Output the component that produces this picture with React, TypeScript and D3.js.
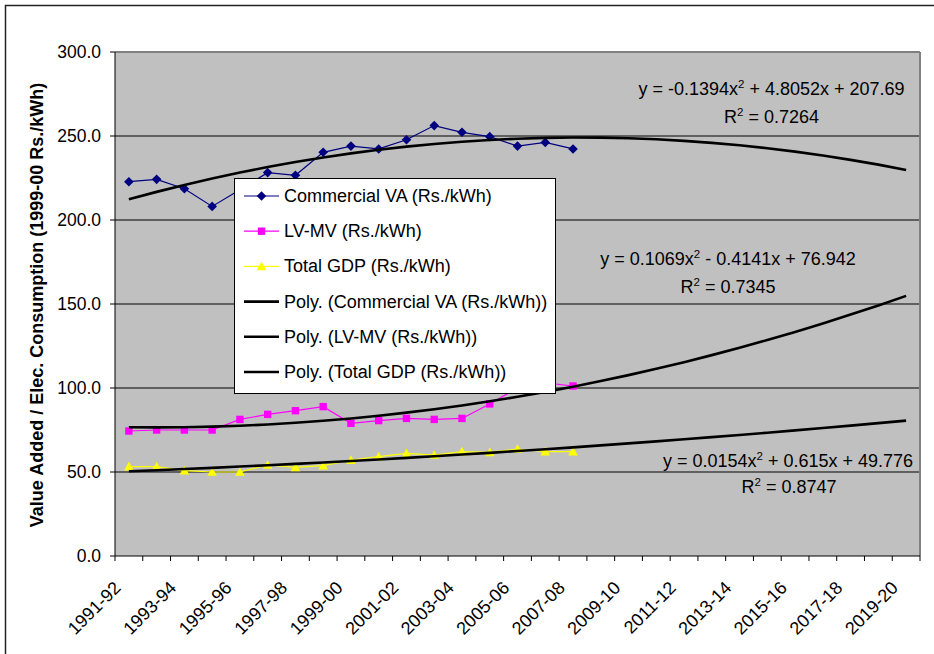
import React from "react";
import * as d3 from "d3";

const categories = [
  "1991-92","1992-93","1993-94","1994-95","1995-96","1996-97","1997-98","1998-99",
  "1999-00","2000-01","2001-02","2002-03","2003-04","2004-05","2005-06","2006-07",
  "2007-08","2008-09","2009-10","2010-11","2011-12","2012-13","2013-14","2014-15",
  "2015-16","2016-17","2017-18","2018-19","2019-20",
];

const commercialVA = [222.8, 224.2, 218.6, 208.1, 218.0, 228.2, 226.6, 240.3, 244.0, 242.3, 247.8, 256.2, 252.2, 249.6, 244.0, 246.2, 242.3];
const lvmv = [74.4, 75.0, 75.0, 75.0, 81.3, 84.3, 86.5, 88.9, 79.0, 80.6, 81.9, 81.3, 81.9, 90.5, 100.0, 103.0, 101.2];
const totalGDP = [53.2, 53.2, 50.8, 50.0, 50.0, 54.2, 52.8, 53.8, 57.1, 59.1, 61.1, 60.1, 62.1, 61.7, 63.7, 62.1, 62.1];

// trendline coefficients [a, b, c] for y = a x^2 + b x + c (x = 1..29)
const polyCommercial = [-0.1394, 4.8052, 207.69];
const polyLVMV = [0.1069, -0.4141, 76.942];
const polyGDP = [0.0154, 0.615, 49.776];

const yTicks = [0, 50, 100, 150, 200, 250, 300];

const legendLabels = [
  "Commercial VA (Rs./kWh)",
  "LV-MV (Rs./kWh)",
  "Total GDP (Rs./kWh)",
  "Poly. (Commercial VA (Rs./kWh))",
  "Poly. (LV-MV (Rs./kWh))",
  "Poly. (Total GDP (Rs./kWh))",
];

const FONT = "'Liberation Sans', Arial, sans-serif";

export default function App() {
  const left = 115, right = 920, top = 52, bottom = 556;
  const x = d3.scaleBand<string>().domain(categories).range([left, right]).padding(0);
  const bw = x.bandwidth();
  const cx = (i: number) => (x(categories[i]) as number) + bw / 2;
  const y = d3.scaleLinear().domain([0, 300]).range([bottom, top]);

  const line = d3.line<number>().x((_, i) => cx(i)).y((d) => y(d));
  const trend = (p: number[]) =>
    categories.map((_, i) => {
      const t = i + 1;
      return p[0] * t * t + p[1] * t + p[2];
    });

  const diamond = (px: number, py: number, s = 4.8) =>
    `M${px},${py - s}L${px + s},${py}L${px},${py + s}L${px - s},${py}Z`;
  const tri = (px: number, py: number, s = 4.8) =>
    `M${px},${py - s}L${px + s},${py + s * 0.8}L${px - s},${py + s * 0.8}Z`;

  const navy = "#000080", magenta = "#FF00FF", yellow = "#FFFF00";

  const legX = 234, legY = 178, legW = 321, legH = 215;
  const rowY = (k: number) => 196 + k * 35.2;

  return (
    <svg width={934} height={654} style={{ position: "absolute", left: 0, top: 0, background: "#fff" }} fontFamily={FONT}>
      <rect x={5.5} y={5.5} width={1000} height={1000} fill="#fff" stroke="#222" strokeWidth={1.5} />
      {/* plot area */}
      <rect x={left} y={top} width={right - left} height={bottom - top} fill="#C0C0C0" />
      {yTicks.filter((t) => t > 0 && t < 300).map((t) => (
        <line key={t} x1={left} x2={right} y1={y(t)} y2={y(t)} stroke="#000" strokeWidth={1} />
      ))}
      <line x1={left} x2={right} y1={top} y2={top} stroke="#808080" strokeWidth={2} />
      <line x1={right} x2={right} y1={top} y2={bottom} stroke="#808080" strokeWidth={2} />
      {/* axes */}
      <line x1={left} x2={left} y1={top} y2={bottom} stroke="#000" strokeWidth={1} />
      <line x1={left} x2={right} y1={bottom} y2={bottom} stroke="#000" strokeWidth={1} />
      {yTicks.map((t) => (
        <g key={t}>
          <line x1={left - 5} x2={left} y1={y(t)} y2={y(t)} stroke="#000" />
          <text x={101} y={y(t)} textAnchor="end" dominantBaseline="central" fontSize={17.5} fill="#000">
            {t.toFixed(1)}
          </text>
        </g>
      ))}
      {categories.map((c) => (
        <line key={c} x1={x(c) as number} x2={x(c) as number} y1={bottom} y2={bottom + 5} stroke="#000" />
      ))}
      <line x1={right} x2={right} y1={bottom} y2={bottom + 5} stroke="#000" />
      {categories.map((c, i) =>
        i % 2 === 0 ? (
          <text key={c} transform={`translate(${cx(i) - 7},${589}) rotate(-45)`} textAnchor="end" fontSize={18} fill="#000">
            {c}
          </text>
        ) : null
      )}
      <text transform={`translate(43,${(top + bottom) / 2 + 1}) rotate(-90)`} textAnchor="middle" fontSize={18} fontWeight="bold" fill="#000">
        Value Added / Elec. Consumption (1999-00 Rs./kWh)
      </text>

      {/* data series */}
      <path d={line(commercialVA) || ""} fill="none" stroke={navy} strokeWidth={1.2} />
      {commercialVA.map((v, i) => <path key={i} d={diamond(cx(i), y(v))} fill={navy} />)}
      <path d={line(lvmv) || ""} fill="none" stroke={magenta} strokeWidth={1.2} />
      {lvmv.map((v, i) => <rect key={i} x={cx(i) - 3.7} y={y(v) - 3.7} width={7.4} height={7.4} fill={magenta} />)}
      <path d={line(totalGDP) || ""} fill="none" stroke={yellow} strokeWidth={1.2} />
      {totalGDP.map((v, i) => <path key={i} d={tri(cx(i), y(v))} fill={yellow} />)}

      {/* trendlines */}
      {[polyCommercial, polyLVMV, polyGDP].map((p, k) => (
        <path key={k} d={line(trend(p)) || ""} fill="none" stroke="#000" strokeWidth={2.6} />
      ))}

      {/* equations */}
      <g fontSize={18} fill="#000" textAnchor="middle">
        <text x={771.5} y={95}>y = -0.1394x<tspan dy={-7} fontSize={11.5}>2</tspan><tspan dy={7}> + 4.8052x + 207.69</tspan></text>
        <text x={771.5} y={123}>R<tspan dy={-7} fontSize={11.5}>2</tspan><tspan dy={7}> = 0.7264</tspan></text>
        <text x={728} y={265}>y = 0.1069x<tspan dy={-7} fontSize={11.5}>2</tspan><tspan dy={7}> - 0.4141x + 76.942</tspan></text>
        <text x={728} y={293}>R<tspan dy={-7} fontSize={11.5}>2</tspan><tspan dy={7}> = 0.7345</tspan></text>
        <text x={788} y={467}>y = 0.0154x<tspan dy={-7} fontSize={11.5}>2</tspan><tspan dy={7}> + 0.615x + 49.776</tspan></text>
        <text x={789} y={493}>R<tspan dy={-7} fontSize={11.5}>2</tspan><tspan dy={7}> = 0.8747</tspan></text>
      </g>

      {/* legend */}
      <rect x={legX + 0.5} y={legY + 0.5} width={legW} height={legH} fill="#fff" stroke="#000" strokeWidth={1} />
      {legendLabels.map((lab, k) => {
        const ry = rowY(k);
        const color = k === 0 ? navy : k === 1 ? magenta : k === 2 ? yellow : "#000";
        const sw = k < 3 ? 1.2 : 2.6;
        return (
          <g key={lab}>
            <line x1={244} x2={279} y1={ry} y2={ry} stroke={color} strokeWidth={sw} />
            {k === 0 && <path d={diamond(261.5, ry)} fill={navy} />}
            {k === 1 && <rect x={261.5 - 3.7} y={ry - 3.7} width={7.4} height={7.4} fill={magenta} />}
            {k === 2 && <path d={tri(261.5, ry)} fill={yellow} />}
            <text x={284} y={ry} dominantBaseline="central" fontSize={18} fill="#000">{lab}</text>
          </g>
        );
      })}
    </svg>
  );
}
